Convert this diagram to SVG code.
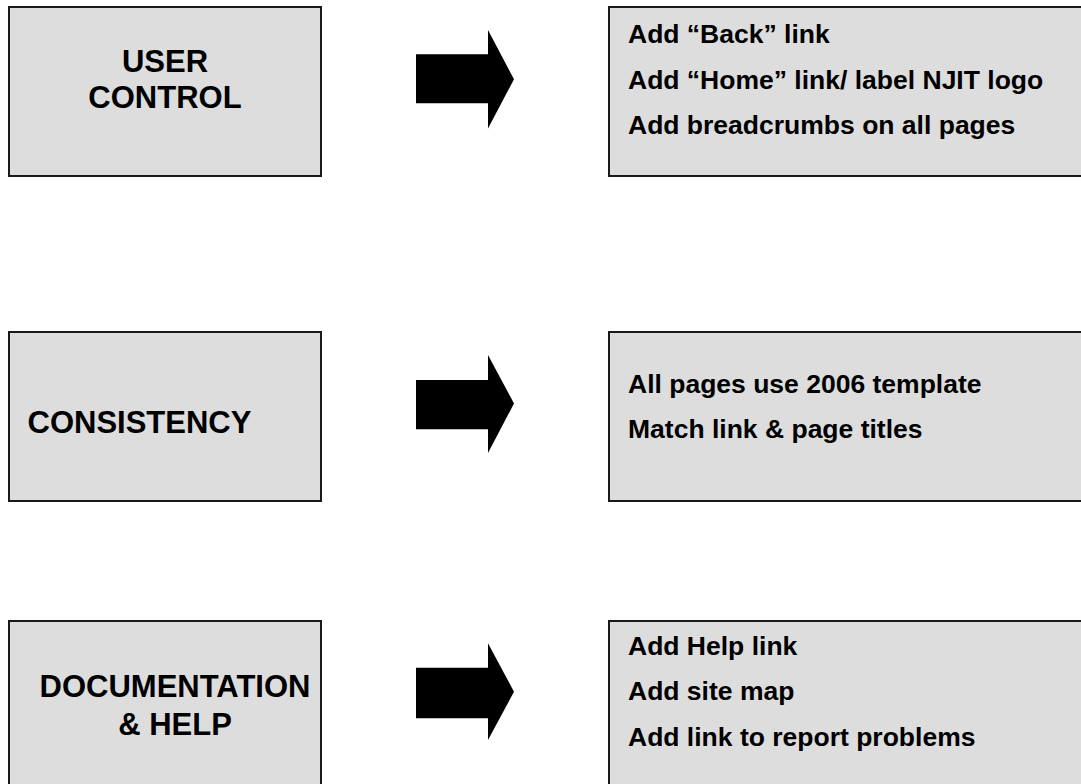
<svg xmlns="http://www.w3.org/2000/svg" width="1081" height="784" viewBox="0 0 1081 784">
<style>
.box{fill:#dddddd;stroke:#1a1a1a;stroke-width:2}
.arrow{fill:#000}
.big{font-family:"Liberation Sans",Arial,sans-serif;font-weight:bold;font-size:31px;fill:#000}
.item{font-family:"Liberation Sans",Arial,sans-serif;font-weight:bold;font-size:26.5px;fill:#000}
</style>
<rect width="1081" height="784" fill="#fff"/>
<g id="user-control">
<rect class="box" x="9" y="7" width="312" height="169"/>
<text class="big" x="165" y="71.5" text-anchor="middle">USER</text>
<text class="big" x="165" y="108" text-anchor="middle">CONTROL</text>
</g>
<g id="user-control-actions">
<rect class="box" x="609" y="7" width="490" height="169"/>
<text class="item" x="628" y="43">Add “Back” link</text>
<text class="item" x="628" y="88.5">Add “Home” link/ label NJIT logo</text>
<text class="item" x="628" y="133.5">Add breadcrumbs on all pages</text>
</g>
<g id="consistency">
<rect class="box" x="9" y="332" width="312" height="169"/>
<text class="big" x="27.5" y="432.5">CONSISTENCY</text>
</g>
<g id="consistency-actions">
<rect class="box" x="609" y="332" width="490" height="169"/>
<text class="item" x="628" y="392.5">All pages use 2006 template</text>
<text class="item" x="628" y="437.5">Match link &amp; page titles</text>
</g>
<g id="documentation">
<rect class="box" x="9" y="621" width="312" height="180"/>
<text class="big" x="175" y="696.5" text-anchor="middle">DOCUMENTATION</text>
<text class="big" x="175" y="735" text-anchor="middle">&amp; HELP</text>
</g>
<g id="documentation-actions">
<rect class="box" x="609" y="621" width="490" height="180"/>
<text class="item" x="628" y="654.5">Add Help link</text>
<text class="item" x="628" y="700">Add site map</text>
<text class="item" x="628" y="745.5">Add link to report problems</text>
</g>
<g id="connectors">
<polygon class="arrow" points="416,54.3 488,54.3 488,30 514,79.3 488,128.5 488,103.3 416,103.3"/>
<polygon class="arrow" points="416,380 488,380 488,355 514,403.5 488,453 488,429.3 416,429.3"/>
<polygon class="arrow" points="416,667.7 488,667.7 488,643.3 514,691.7 488,740 488,718.3 416,718.3"/>
</g>
</svg>
